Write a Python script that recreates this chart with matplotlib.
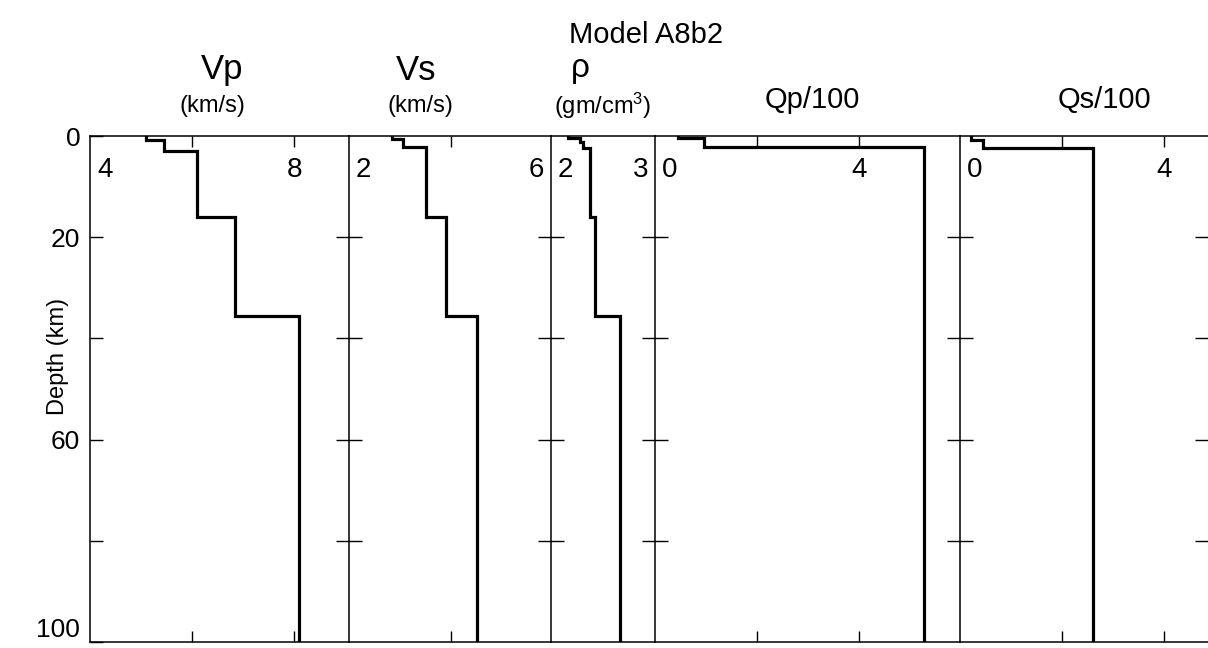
import numpy as np
import matplotlib.pyplot as plt

plt.rcParams['font.family'] = ['Liberation Sans', 'DejaVu Sans']
plt.rcParams['mathtext.default'] = 'regular'

# layer tops (km) and layer values for each property of model A8b2
vp_depth = [0, 0.8, 3.0, 16.0, 35.5]
vp = [5.1, 5.45, 6.1, 6.85, 8.1]
vs_depth = [0, 0.6, 2.2, 16.0, 35.5]
vs = [2.85, 3.05, 3.5, 3.9, 4.5]
rho_depth = [0, 0.4, 1.2, 2.4, 16.0, 35.5]
rho = [2.33, 2.57, 2.63, 2.76, 2.86, 3.35]
qp_depth = [0, 0.4, 2.2]
qp = [0.45, 0.95, 5.27]
qs_depth = [0, 0.7, 2.4]
qs = [0.22, 0.45, 2.6]
max_depth = 100

depth_ticks = [0, 20, 40, 60, 80, 100]
depth_ticklabels = ['0', '20', '', '60', '', '100']

# value axis ranges, inner tick marks and the small number labels
vp_xlim, vp_ticks, vp_labels = (4, 9.08), [6, 8], [('4', 4, 'left'), ('8', 8, 'center')]
vs_xlim, vs_ticks, vs_labels = (2, 5.96), [4], [('2', 2, 'left'), ('6', 5.96, 'right')]
rho_xlim, rho_ticks, rho_labels = (2, 4.04), [], [('2', 2, 'left'), ('3', 4.04, 'right')]
qp_xlim, qp_ticks, qp_labels = (0, 5.98), [2, 4], [('0', 0, 'left'), ('4', 4, 'center')]
qs_xlim, qs_ticks, qs_labels = (0, 4.86), [2, 4], [('0', 0, 'left'), ('4', 4, 'center')]

W, H = 1208, 648
fig = plt.figure(figsize=(W / 100, H / 100), dpi=100)

px_per_unit = 51.0
x0, top, bottom = 90, 136, 642


def profile(tops, vals):
    y = np.repeat(list(tops) + [max_depth], 2)[1:-1]
    x = np.repeat(vals, 2)
    return x, y


panels = [
    (vp_depth, vp, vp_xlim, vp_ticks, vp_labels),
    (vs_depth, vs, vs_xlim, vs_ticks, vs_labels),
    (rho_depth, rho, rho_xlim, rho_ticks, rho_labels),
    (qp_depth, qp, qp_xlim, qp_ticks, qp_labels),
    (qs_depth, qs, qs_xlim, qs_ticks, qs_labels),
]

left = x0
for i, (dep, vals, xlim, xt, labels) in enumerate(panels):
    width = (xlim[1] - xlim[0]) * px_per_unit
    ax = fig.add_axes([left / W, (H - bottom) / H, width / W, (bottom - top) / H])
    left += width

    x, y = profile(dep, vals)
    ax.plot(x, y, color='black', lw=2.3, solid_joinstyle='miter', zorder=3)

    ax.set_xlim(*xlim)
    ax.set_ylim(max_depth, 0)
    ax.spines['right'].set_visible(False)
    for s in ['top', 'bottom', 'left']:
        ax.spines[s].set_linewidth(1.1)

    ax.set_xticks(xt)
    ax.tick_params(axis='x', which='both', direction='in', top=True, bottom=True,
                   length=8, width=1, labelbottom=False, labeltop=False)

    if i == 0:
        ax.set_yticks(depth_ticks)
        ax.set_yticklabels(depth_ticklabels, fontsize=19)
        ax.get_yticklabels()[-1].set_va('bottom')
        ax.tick_params(axis='y', direction='in', length=9.5, width=1, pad=7)
    else:
        ax.set_yticks(depth_ticks[1:-1])
        ax.tick_params(axis='y', direction='inout', length=19, width=1, labelleft=False)
    if i == len(panels) - 1:
        ax.tick_params(axis='y', right=True)

    for txt, xv, ha in labels:
        off = {'left': 5, 'right': -5, 'center': 0}[ha]
        ax.annotate(txt, xy=(xv, 6.8), xytext=(off, 0), textcoords='offset points',
                    ha=ha, va='center', fontsize=20)


def ftext(x, y, s, size, **kw):
    fig.text(x / W, 1 - y / H, s, ha='center', va='center', fontsize=size, **kw)


ftext(646, 35, 'Model A8b2', 21)
ftext(222, 70, 'Vp', 25)
ftext(212, 106, '(km/s)', 17)
ftext(416, 70, 'Vs', 25)
ftext(420, 106, '(km/s)', 17)
ftext(580, 68, 'ρ', 24)
ftext(603, 106, '(gm/cm$^{3}$)', 17)
ftext(812, 100, 'Qp/100', 21)
ftext(1104, 100, 'Qs/100', 21)
ftext(58, 356, 'Depth (km)', 17, rotation=90)

fig.savefig('out.png', dpi=100)
